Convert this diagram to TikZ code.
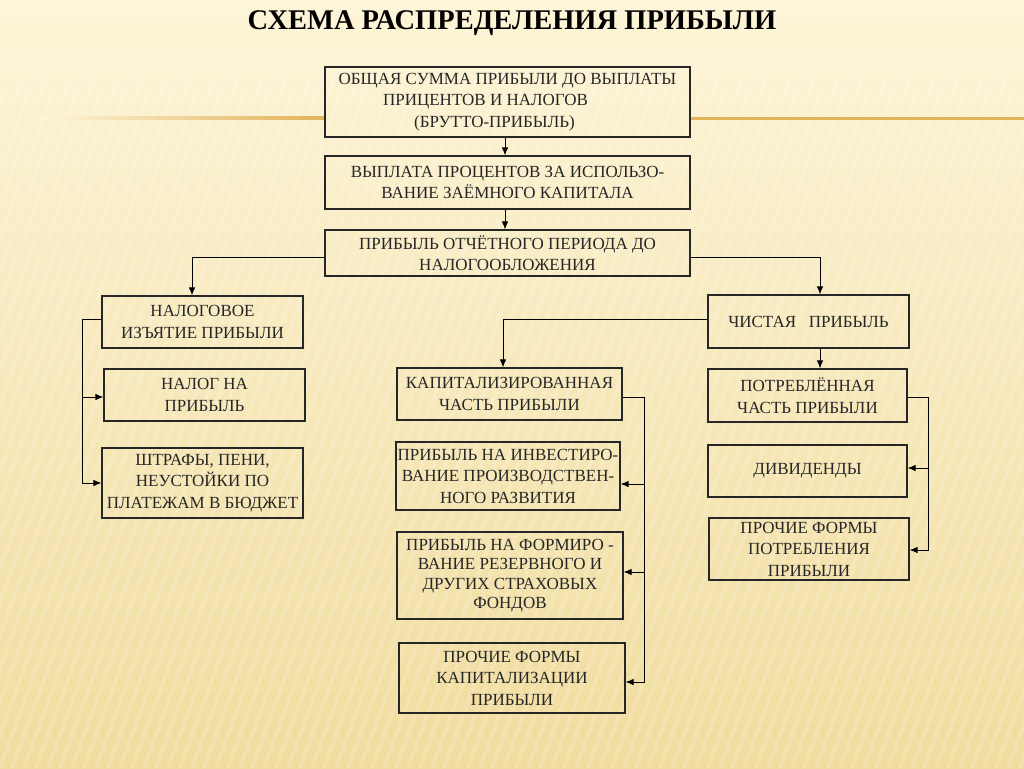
\documentclass[tikz,border=0pt]{standalone}
\usepackage{fontspec}
\setmainfont{Liberation Serif}
\usetikzlibrary{arrows.meta}
\definecolor{bgtop}{HTML}{FDF5D8}
\definecolor{bgbot}{HTML}{F1DC9E}
\definecolor{gold}{HTML}{E3B25A}
\definecolor{ink}{HTML}{262626}
\tikzset{
  box/.style={draw=ink, line width=1.1pt, inner sep=0pt, align=center,
    font=\fontsize{17}{21.5}\selectfont, text=ink},
  link/.style={draw=black, line width=1pt},
  arr/.style={link, -{Latex[length=8pt,width=6.5pt]}},
  stripe/.style={white, opacity=0.16, line width=4pt},
}
\begin{document}
\begin{tikzpicture}[x=1pt,y=-1pt]
\useasboundingbox (0,0) rectangle (1024,768);
\shade[top color=bgtop, bottom color=bgbot] (0,0) rectangle (1024,768);
\begin{scope}
\clip (0,50) rectangle (1024,768);
\foreach \i in {-300,-288,...,1100} {
  \draw[stripe] (\i,768) -- (\i+260,50);
}
\end{scope}
\fill[left color=bgtop, right color=gold] (40,116.5) rectangle (325,119.5);
\fill[gold] (690,116.5) rectangle (1024,119.5);

\node[font=\bfseries\fontsize{28.5}{31}\selectfont, text=black] (title) at (512,23) {СХЕМА РАСПРЕДЕЛЕНИЯ ПРИБЫЛИ};

\node[box, minimum width=365pt, minimum height=70pt] (b1) at (507.5,102)
  {ОБЩАЯ СУММА ПРИБЫЛИ ДО ВЫПЛАТЫ\\ПРИЦЕНТОВ И НАЛОГОВ\hspace*{44pt}\null\\(БРУТТО-ПРИБЫЛЬ)\hspace*{26pt}\null};
\node[box, minimum width=365pt, minimum height=53pt] (b2) at (507.5,182.5)
  {ВЫПЛАТА ПРОЦЕНТОВ ЗА ИСПОЛЬЗО-\\ВАНИЕ ЗАЁМНОГО КАПИТАЛА};
\node[box, minimum width=365pt, minimum height=46pt] (b3) at (507.5,253)
  {ПРИБЫЛЬ ОТЧЁТНОГО ПЕРИОДА ДО\\НАЛОГООБЛОЖЕНИЯ};

\node[box, minimum width=201pt, minimum height=52pt] (b4) at (202.5,322)
  {НАЛОГОВОЕ\\ИЗЪЯТИЕ ПРИБЫЛИ};
\node[box, minimum width=201pt, minimum height=52pt] (b5) at (204.5,395)
  {НАЛОГ НА\\ПРИБЫЛЬ};
\node[box, minimum width=201pt, minimum height=70pt] (b6) at (202.5,483)
  {ШТРАФЫ, ПЕНИ,\\НЕУСТОЙКИ ПО\\ПЛАТЕЖАМ В БЮДЖЕТ};

\node[box, minimum width=225pt, minimum height=52pt] (kap) at (509.5,394)
  {КАПИТАЛИЗИРОВАННАЯ\\ЧАСТЬ ПРИБЫЛИ};
\node[box, minimum width=224pt, minimum height=68pt] (inv) at (508,476)
  {ПРИБЫЛЬ НА ИНВЕСТИРО-\\ВАНИЕ ПРОИЗВОДСТВЕН-\\НОГО РАЗВИТИЯ};
\node[box, minimum width=226pt, minimum height=87pt, font=\fontsize{17}{19.5}\selectfont] (form) at (510,575.5)
  {ПРИБЫЛЬ НА ФОРМИРО -\\ВАНИЕ РЕЗЕРВНОГО И\\ДРУГИХ СТРАХОВЫХ\\ФОНДОВ};
\node[box, minimum width=226pt, minimum height=70pt] (pcap) at (512,678)
  {ПРОЧИЕ ФОРМЫ\\КАПИТАЛИЗАЦИИ\\ПРИБЫЛИ};

\node[box, minimum width=201pt, minimum height=53pt] (chist) at (808.5,321.5)
  {ЧИСТАЯ \ \ ПРИБЫЛЬ};
\node[box, minimum width=199pt, minimum height=53pt] (pot) at (807.5,395.5)
  {ПОТРЕБЛЁННАЯ\\ЧАСТЬ ПРИБЫЛИ};
\node[box, minimum width=199pt, minimum height=52pt] (div) at (807.5,471)
  {ДИВИДЕНДЫ};
\node[box, minimum width=200pt, minimum height=62pt] (pp) at (809,549)
  {ПРОЧИЕ ФОРМЫ\\ПОТРЕБЛЕНИЯ\\ПРИБЫЛИ};

% main trunk
\draw[arr] ([xshift=-2.5pt]b1.south) -- ([xshift=-2.5pt]b2.north);
\draw[arr] ([xshift=-2.5pt]b2.south) -- ([xshift=-2.5pt]b3.north);
\draw[arr] ([yshift=-4pt]b3.west) -| ([xshift=-10.5pt]b4.north);
\draw[arr] ([yshift=-4pt]b3.east) -| ([xshift=11.5pt]chist.north);

% left bracket
\coordinate (lb) at ([xshift=-19pt,yshift=3pt]b4.west);
\draw[link] ([yshift=3pt]b4.west) -- (lb);
\draw[arr] (lb) |- ([yshift=-2pt]b5.west);
\draw[arr] (lb) |- (b6.west);

% capitalised part
\draw[arr] ([yshift=2.5pt]chist.west) -| ([xshift=-6.5pt]kap.north);
\coordinate (kb) at ([xshift=22pt,yshift=-3pt]kap.east);
\draw[arr] ([yshift=-3pt]kap.east) -- (kb) |- ([yshift=-4pt]pcap.east);
\draw[arr] (kb) |- ([yshift=-8pt]inv.east);
\draw[arr] (kb) |- ([yshift=3.5pt]form.east);

% consumed part
\draw[arr] ([xshift=11.5pt]chist.south) -- ([xshift=12.5pt]pot.north);
\coordinate (pb) at ([xshift=21pt,yshift=-1.5pt]pot.east);
\draw[arr] ([yshift=-1.5pt]pot.east) -- (pb) |- ([yshift=-1pt]pp.east);
\draw[arr] (pb) |- ([yshift=3pt]div.east);
\end{tikzpicture}
\end{document}
